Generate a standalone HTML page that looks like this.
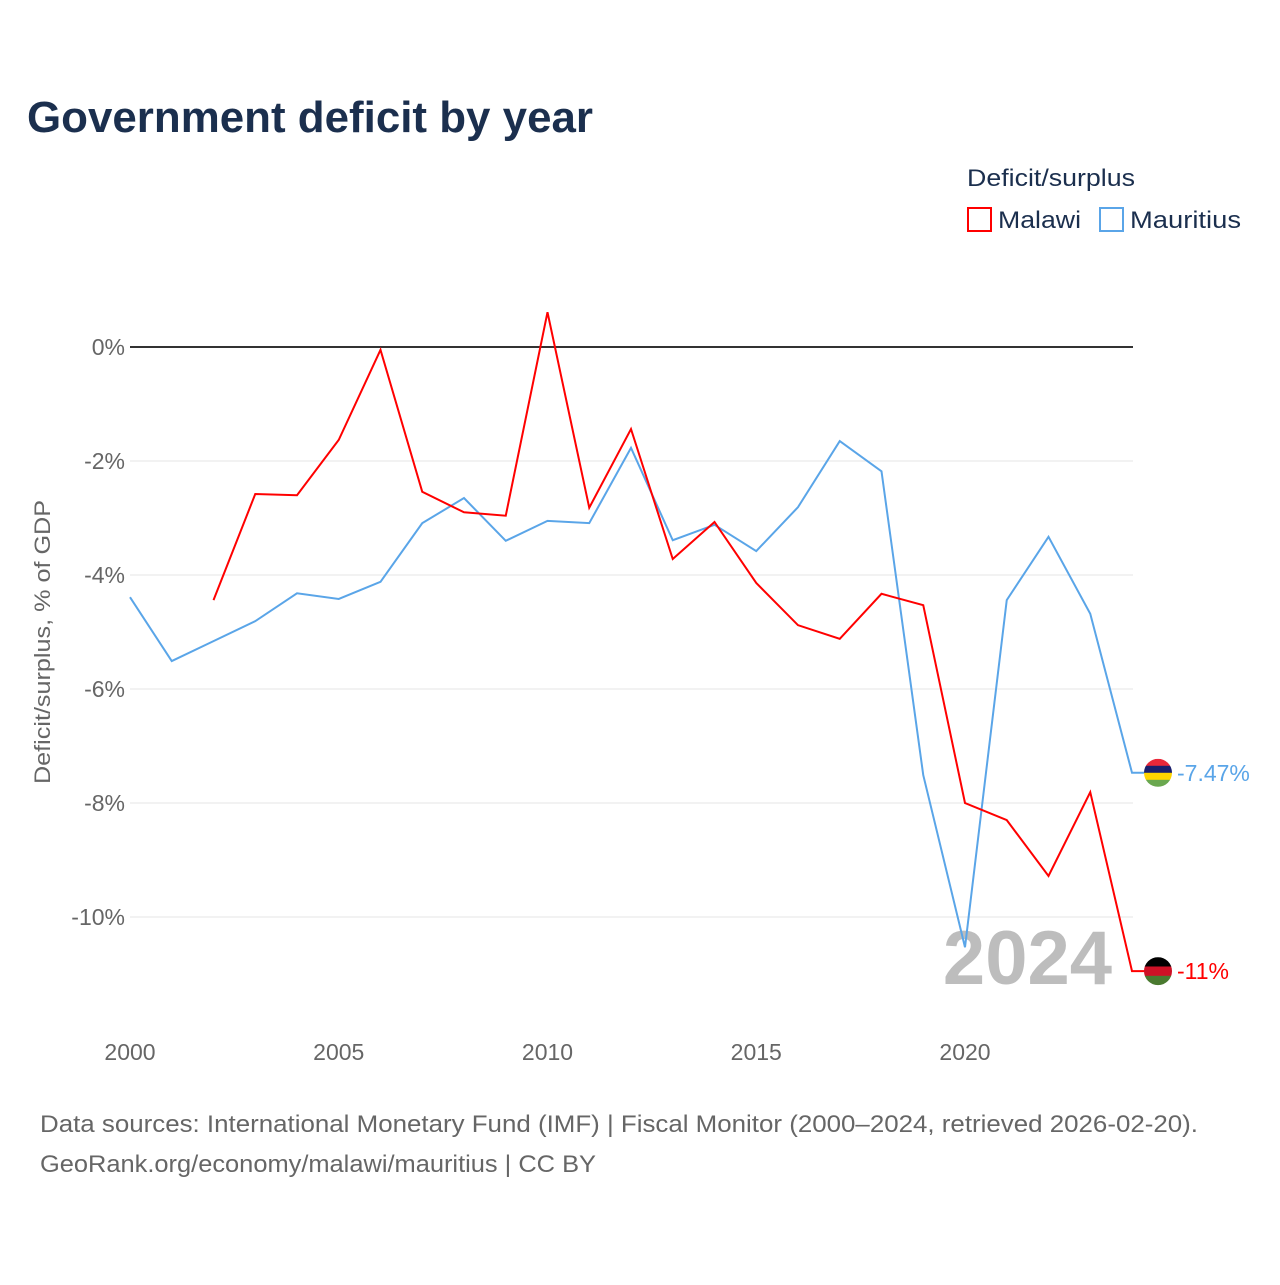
<!DOCTYPE html>
<html><head><meta charset="utf-8">
<style>
body{margin:0;background:#fff;font-family:"Liberation Sans",sans-serif;}
svg text{font-family:"Liberation Sans",sans-serif;}
</style></head>
<body>
<svg id="chart" width="1280" height="1280" viewBox="0 0 1280 1280" xmlns="http://www.w3.org/2000/svg">
<rect width="1280" height="1280" fill="#fff"/>
<text x="27" y="132" font-size="44" font-weight="bold" fill="#1b2f4e" textLength="566" lengthAdjust="spacingAndGlyphs">Government deficit by year</text>
<text x="967" y="186" font-size="24" fill="#1b2f4e" textLength="168" lengthAdjust="spacingAndGlyphs">Deficit/surplus</text>
<g>
<rect x="968" y="208" width="23" height="23" fill="none" stroke="#ff0000" stroke-width="2"/>
<text x="998" y="228" font-size="24" fill="#1b2f4e" textLength="83" lengthAdjust="spacingAndGlyphs">Malawi</text></g>
<g>
<rect x="1100" y="208" width="23" height="23" fill="none" stroke="#5aa5e8" stroke-width="2"/>
<text x="1130" y="228" font-size="24" fill="#1b2f4e" textLength="111" lengthAdjust="spacingAndGlyphs">Mauritius</text></g>
<text transform="translate(50,642) rotate(-90)" text-anchor="middle" font-size="22" fill="#666" textLength="284" lengthAdjust="spacingAndGlyphs">Deficit/surplus, % of GDP</text>
<g id="grid"></g><g id="xt"></g>
<text x="1112" y="984" text-anchor="end" font-size="76" font-weight="bold" fill="#bdbdbd">2024</text>
<g id="series"></g>
<text x="40" y="1132" font-size="24" fill="#666" textLength="1158" lengthAdjust="spacingAndGlyphs">Data sources: International Monetary Fund (IMF) | Fiscal Monitor (2000–2024, retrieved 2026-02-20).</text>
<text x="40" y="1172" font-size="24" fill="#666" textLength="556" lengthAdjust="spacingAndGlyphs">GeoRank.org/economy/malawi/mauritius | CC BY</text>
</svg>
<script>
const years=[2000,2001,2002,2003,2004,2005,2006,2007,2008,2009,2010,2011,2012,2013,2014,2015,2016,2017,2018,2019,2020,2021,2022,2023,2024];
const malawi=[null,null,-4.44,-2.58,-2.6,-1.63,-0.05,-2.54,-2.9,-2.96,0.61,-2.82,-1.44,-3.72,-3.07,-4.14,-4.88,-5.12,-4.33,-4.53,-8.0,-8.3,-9.28,-7.81,-10.95];
const mauritius=[-4.39,-5.51,-5.16,-4.81,-4.32,-4.42,-4.12,-3.09,-2.65,-3.4,-3.05,-3.09,-1.77,-3.39,-3.12,-3.58,-2.81,-1.65,-2.18,-7.51,-10.53,-4.44,-3.33,-4.68,-7.47];
const yTicks=[0,-2,-4,-6,-8,-10];
const xTicks=[2000,2005,2010,2015,2020];
const NS="http://www.w3.org/2000/svg";
const X=y=>130+(y-2000)*41.75;
const Y=v=>347-v*57;
function mk(t,a,p){const e=document.createElementNS(NS,t);for(const k in a)e.setAttribute(k,a[k]);p.appendChild(e);return e;}
const grid=document.getElementById('grid');
yTicks.forEach(v=>{
 const l=mk('line',{x1:130,x2:1133,y1:Y(v),y2:Y(v),stroke:v===0?'#333':'#e6e6e6','stroke-width':v===0?2:1},grid);
 
 
 const t=mk('text',{x:125,y:Y(v)+8,'text-anchor':'end','font-size':23,fill:'#666'},grid);
 t.textContent=v+'%';
 
 
});
const xt=document.getElementById('xt');
xTicks.forEach(yr=>{
 const t=mk('text',{x:X(yr),y:1060,'text-anchor':'middle','font-size':23,fill:'#666'},xt);
 t.textContent=yr;
 
 
});
const sg=document.getElementById('series');
function draw(vals,color,name,lbl,flag){
 let d='';vals.forEach((v,i)=>{if(v===null)return;d+=(d?'L':'M')+X(years[i])+','+Y(v);});
 const lastV=vals[vals.length-1];
 d+='L'+(X(2024)+25)+','+Y(lastV);
 const p=mk('path',{d:d,fill:'none',stroke:color,'stroke-width':2},sg);
 
 
 const cx=X(2024)+26,cy=Y(lastV);
 const g=mk('g',{},sg);
 
 
 const cp=mk('clipPath',{id:'c'+name},g);mk('circle',{cx:cx,cy:cy,r:14},cp);
 const h=28/flag.length;
 flag.forEach((c,i)=>mk('rect',{x:cx-14,y:cy-14+i*h,width:28,height:h+0.5,fill:c,'clip-path':'url(#c'+name+')'},g));
 const t=mk('text',{x:cx+19,y:cy+8,'font-size':23,fill:color},sg);
 t.textContent=lbl;
 
 
}
draw(mauritius,'#5aa5e8','mauritius','-7.47%',['#ea2839','#1a206d','#ffd500','#6aa84f']);
draw(malawi,'#ff0000','malawi','-11%',['#000','#ce1126','#4a7a30']);
</script>
</body></html>
